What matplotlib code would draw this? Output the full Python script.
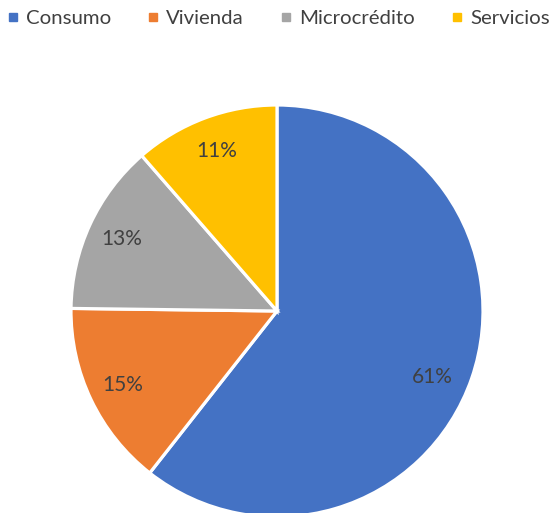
import numpy as np
import matplotlib.pyplot as plt
from matplotlib.lines import Line2D

categories = ['Consumo', 'Vivienda', 'Microcrédito', 'Servicios']
shares = [60.6, 14.6, 13.4, 11.4]
colors = ['#4472C4', '#ED7D31', '#A5A5A5', '#FFC000']

plt.rcParams['font.family'] = ['Lato', 'DejaVu Sans']

W, H = 556, 513
fig = plt.figure(figsize=(W / 100, H / 100), dpi=100)
# pie spans x 71..483 px, y 105..517 px (top-down)
ax = fig.add_axes([71 / W, (H - 517) / H, 412 / W, 412 / H])

wedges, texts, autotexts = ax.pie(
    shares, colors=colors, startangle=90, counterclock=False, radius=1,
    autopct='%.0f%%', pctdistance=0.83,
    wedgeprops=dict(edgecolor='white', linewidth=2.3),
    textprops=dict(color='#404040', fontsize=15))
ax.set_aspect('auto')
ax.set_xlim(-1, 1)
ax.set_ylim(-1, 1)
ax.axis('off')

# the big slice's label sits a bit lower than the wedge midline
a = np.deg2rad(-23)
autotexts[0].set_position((0.82 * np.cos(a), 0.82 * np.sin(a)))

handles = [Line2D([], [], marker='s', linestyle='none', markersize=5.5,
                  color=c) for c in colors]
fig.legend(handles, categories, loc='upper center', bbox_to_anchor=(0.5, 1.008),
           ncol=4, frameon=False, fontsize=14.7, handlelength=0.6,
           handletextpad=0.35, columnspacing=1.75, borderaxespad=0.3,
           labelcolor='#404040')

fig.savefig('out.png', dpi=100)
